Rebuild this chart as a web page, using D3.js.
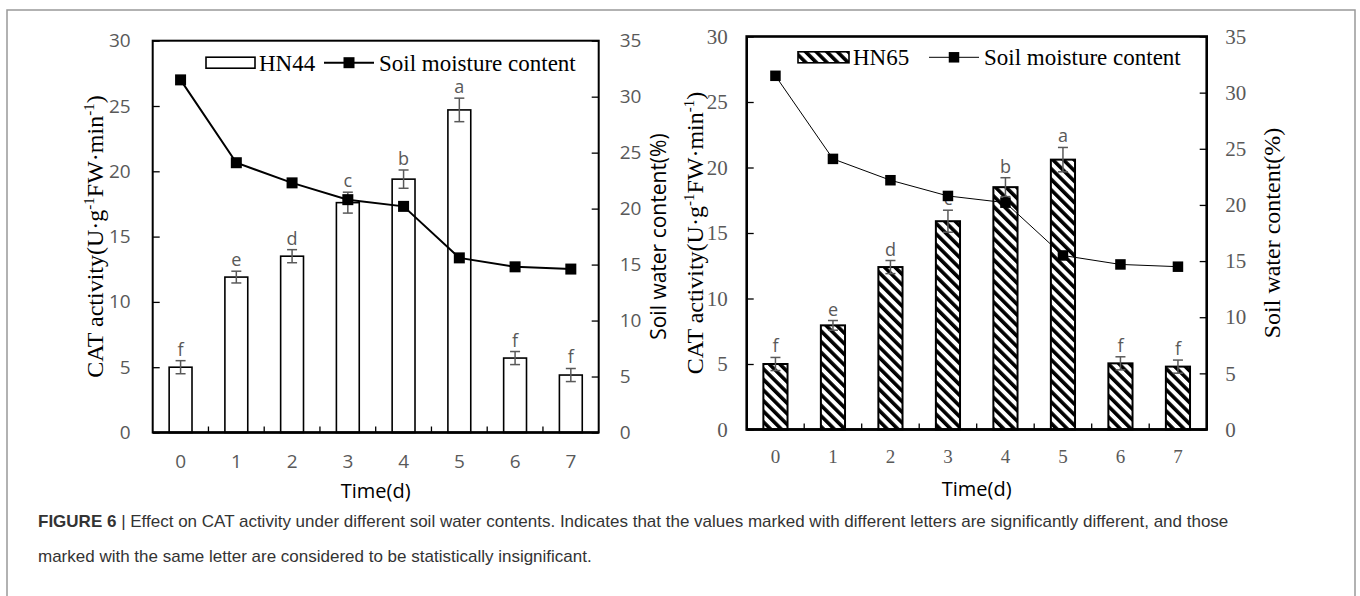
<!DOCTYPE html>
<html>
<head>
<meta charset="utf-8">
<script src="https://cdn.jsdelivr.net/npm/d3@7"></script>
<style>
  body { margin: 0; background: #fff; }
  svg { display: block; }
</style>
</head>
<body>
<script>
// data
const days = ['0', '1', '2', '3', '4', '5', '6', '7']
const catTicks = [0, 5, 10, 15, 20, 25, 30]
const waterTicks = [0, 5, 10, 15, 20, 25, 30, 35]

const hn44Cat = [5.0, 11.9, 13.5, 17.6, 19.4, 24.7, 5.7, 4.4]
const hn44Err = [0.5, 0.45, 0.5, 0.8, 0.7, 0.9, 0.5, 0.5]
const hn44Letters = ['f', 'e', 'd', 'c', 'b', 'a', 'f', 'f']
const hn44Moisture = [31.5, 24.1, 22.3, 20.8, 20.2, 15.6, 14.8, 14.6]

const hn65Cat = [5.0, 7.95, 12.4, 15.9, 18.5, 20.6, 5.05, 4.8]
const hn65Err = [0.5, 0.37, 0.5, 0.84, 0.72, 0.93, 0.5, 0.5]
const hn65Letters = ['f', 'e', 'd', 'c', 'b', 'a', 'f', 'f']
const hn65Moisture = [31.5, 24.1, 22.2, 20.8, 20.2, 15.5, 14.7, 14.5]

const width = 1360
const height = 596
const sans = "'Open Sans', 'Noto Sans', sans-serif"
const serif = "'Liberation Serif', 'DejaVu Serif', serif"

const svg = d3.select('body').append('svg')
  .attr('width', width)
  .attr('height', height)

// hatch for the HN65 bars
svg.append('defs').append('pattern')
  .attr('id', 'hatch')
  .attr('patternUnits', 'userSpaceOnUse')
  .attr('width', 7.5)
  .attr('height', 7.5)
  .attr('patternTransform', 'rotate(-45)')
  .call(p => p.append('rect').attr('width', 7.5).attr('height', 7.5).attr('fill', '#fff'))
  .append('rect')
  .attr('width', 3.6)
  .attr('height', 7.5)
  .attr('fill', '#000')

// outer frame
svg.append('rect')
  .attr('x', 7).attr('y', 10)
  .attr('width', 1348).attr('height', 600)
  .attr('fill', 'none')
  .attr('stroke', '#999')
  .attr('stroke-width', 1.5)

function panel(o) {
  const g = svg.append('g').attr('transform', 'translate(' + o.left + ',' + o.top + ')')

  const x = d3.scaleBand().domain(days).range([0, o.w])
  const y = d3.scaleLinear().domain([0, 30]).range([o.h, 0])
  const y2 = d3.scaleLinear().domain([0, 35]).range([o.h, 0])
  const bw = x.bandwidth() * o.barFrac
  const cx = (i) => x(days[i]) + x.bandwidth() / 2

  // bars
  g.selectAll('rect.bar')
    .data(o.cat)
    .join('rect')
    .attr('class', 'bar')
    .attr('x', (d, i) => cx(i) - bw / 2)
    .attr('y', (d) => y(d))
    .attr('width', bw)
    .attr('height', (d) => o.h - y(d))
    .attr('fill', o.fill)
    .attr('stroke', '#000')
    .attr('stroke-width', o.barStroke)

  // error bars
  const eb = g.append('g').attr('stroke', '#595959').attr('stroke-width', 1.5)
  o.cat.forEach((d, i) => {
    const e = o.err[i]
    eb.append('line').attr('x1', cx(i)).attr('x2', cx(i)).attr('y1', y(d - e)).attr('y2', y(d + e))
    eb.append('line').attr('x1', cx(i) - 5).attr('x2', cx(i) + 5).attr('y1', y(d - e)).attr('y2', y(d - e))
    eb.append('line').attr('x1', cx(i) - 5).attr('x2', cx(i) + 5).attr('y1', y(d + e)).attr('y2', y(d + e))
  })

  // significance letters
  g.selectAll('text.letter')
    .data(o.letters)
    .join('text')
    .attr('class', 'letter')
    .attr('x', (d, i) => cx(i))
    .attr('y', (d, i) => y(o.cat[i] + o.err[i]) - 5)
    .attr('text-anchor', 'middle')
    .attr('font-family', sans)
    .attr('font-size', '18px')
    .attr('fill', '#595959')
    .text((d) => d)

  // soil moisture line
  const line = d3.line().x((d, i) => cx(i)).y((d) => y2(d))
  g.append('path')
    .datum(o.moist)
    .attr('d', line)
    .attr('fill', 'none')
    .attr('stroke', '#000')
    .attr('stroke-width', o.lineWidth)

  g.selectAll('rect.mk')
    .data(o.moist)
    .join('rect')
    .attr('class', 'mk')
    .attr('x', (d, i) => cx(i) - o.mk / 2)
    .attr('y', (d) => y2(d) - o.mk / 2)
    .attr('width', o.mk)
    .attr('height', o.mk)
    .attr('fill', '#000')

  // plot box
  g.append('rect')
    .attr('width', o.w)
    .attr('height', o.h)
    .attr('fill', 'none')
    .attr('stroke', '#000')
    .attr('stroke-width', o.boxStroke)
  g.append('line')
    .attr('x1', 0).attr('x2', o.w)
    .attr('y1', o.h).attr('y2', o.h)
    .attr('stroke', '#000')
    .attr('stroke-width', 2.6)

  // category separators on x axis
  days.slice(1).forEach((d) => {
    g.append('line')
      .attr('x1', x(d)).attr('x2', x(d))
      .attr('y1', o.h).attr('y2', o.h - 6)
      .attr('stroke', '#000')
      .attr('stroke-width', 1.3)
  })

  const styleAxis = (a, fam, size) => {
    a.select('.domain').remove()
    a.selectAll('line').attr('stroke', '#000').attr('stroke-width', 1.3)
    a.selectAll('text')
      .attr('font-family', fam)
      .attr('font-size', size)
      .attr('fill', '#595959')
  }

  g.append('g')
    .call(d3.axisLeft(y).tickValues(catTicks).tickSize(-7).tickPadding(o.padL))
    .call((a) => styleAxis(a, o.tickFont, o.yTickSize))

  g.append('g')
    .attr('transform', 'translate(' + o.w + ',0)')
    .call(d3.axisRight(y2).tickValues(waterTicks).tickSize(-7).tickPadding(o.padR))
    .call((a) => styleAxis(a, o.tickFont, o.yTickSize))

  g.append('g')
    .attr('transform', 'translate(0,' + o.h + ')')
    .call(d3.axisBottom(x).tickSize(0).tickPadding(o.padX))
    .call((a) => styleAxis(a, o.tickFont, o.xTickSize))

  // left title
  const lt = svg.append('text')
    .attr('transform', 'translate(' + o.leftTitleX + ',' + (o.top + o.h / 2) + ') rotate(-90)')
    .attr('text-anchor', 'middle')
    .attr('dy', '0.35em')
    .attr('font-family', serif)
    .attr('font-size', '24px')
    .attr('fill', '#000')
  lt.append('tspan').text('CAT activity(U·g')
  lt.append('tspan').attr('font-size', '15px').attr('dy', -9).text('-1')
  lt.append('tspan').attr('dy', 9).text('FW·min')
  lt.append('tspan').attr('font-size', '15px').attr('dy', -9).text('-1')
  lt.append('tspan').attr('dy', 9).text(')')

  // right title
  svg.append('text')
    .attr('transform', 'translate(' + o.rightTitleX + ',' + (o.top + o.h / 2) + ') rotate(-90)')
    .attr('text-anchor', 'middle')
    .attr('dy', '0.35em')
    .attr('font-family', o.rightTitleFont)
    .attr('font-size', o.rightTitleSize)
    .attr('fill', '#000')
    .text('Soil water content(%)')

  // x title, centred under the plot
  svg.append('text')
    .attr('x', o.left + o.w / 2)
    .attr('y', o.timeY)
    .attr('text-anchor', 'middle')
    .attr('font-family', sans)
    .attr('font-size', '20px')
    .attr('fill', '#000')
    .text('Time(d)')

  // legend
  const lg = svg.append('g').attr('transform', 'translate(' + o.legX + ',' + o.legY + ')')
  lg.append('rect')
    .attr('x', 0).attr('y', -5.5)
    .attr('width', o.legBox).attr('height', 11)
    .attr('fill', o.fill)
    .attr('stroke', '#000')
    .attr('stroke-width', 1.6)
  lg.append('text')
    .attr('x', o.legBox + 4).attr('y', 8)
    .attr('font-family', serif)
    .attr('font-size', '23px')
    .text(o.name)
  lg.append('line')
    .attr('x1', o.legLine).attr('x2', o.legLine + 50)
    .attr('stroke', '#000')
    .attr('stroke-width', o.lineWidth)
  lg.append('rect')
    .attr('x', o.legLine + 25 - o.mk / 2).attr('y', -o.mk / 2)
    .attr('width', o.mk).attr('height', o.mk)
  lg.append('text')
    .attr('x', o.legLine + 55).attr('y', 8)
    .attr('font-family', serif)
    .attr('font-size', '23px')
    .text('Soil moisture content')
}

panel({
  left: 152.7, top: 40.7, w: 446, h: 391.8,
  cat: hn44Cat, err: hn44Err, letters: hn44Letters, moist: hn44Moisture,
  name: 'HN44', fill: '#fff', barFrac: 0.41, barStroke: 1.6,
  lineWidth: 2, mk: 11, boxStroke: 2,
  tickFont: sans, yTickSize: '19px', xTickSize: '19px',
  padL: 22, padR: 21, padX: 22,
  leftTitleX: 95, rightTitleX: 659, rightTitleFont: sans, rightTitleSize: '21px',
  timeY: 498,
  legX: 206, legY: 62.7, legBox: 49, legLine: 118
})

panel({
  left: 746.7, top: 36.5, w: 460, h: 393,
  cat: hn65Cat, err: hn65Err, letters: hn65Letters, moist: hn65Moisture,
  name: 'HN65', fill: 'url(#hatch)', barFrac: 0.42, barStroke: 2,
  lineWidth: 1, mk: 10.5, boxStroke: 2.6,
  tickFont: serif, yTickSize: '21px', xTickSize: '19px',
  padL: 19, padR: 18.5, padX: 20,
  leftTitleX: 695, rightTitleX: 1272, rightTitleFont: serif, rightTitleSize: '24px',
  timeY: 496,
  legX: 798, legY: 57.3, legBox: 51, legLine: 131
})

// caption
const cap = svg.append('g')
  .attr('font-family', "'Liberation Sans', Arial, sans-serif")
  .attr('font-size', '17px')
  .attr('fill', '#333')
const c1 = cap.append('text').attr('x', 38).attr('y', 527)
c1.append('tspan').attr('font-weight', 'bold').text('FIGURE 6')
c1.append('tspan').text(' | Effect on CAT activity under different soil water contents. Indicates that the values marked with different letters are significantly different, and those')
cap.append('text').attr('x', 38).attr('y', 562)
  .text('marked with the same letter are considered to be statistically insignificant.')
</script>
</body>
</html>
